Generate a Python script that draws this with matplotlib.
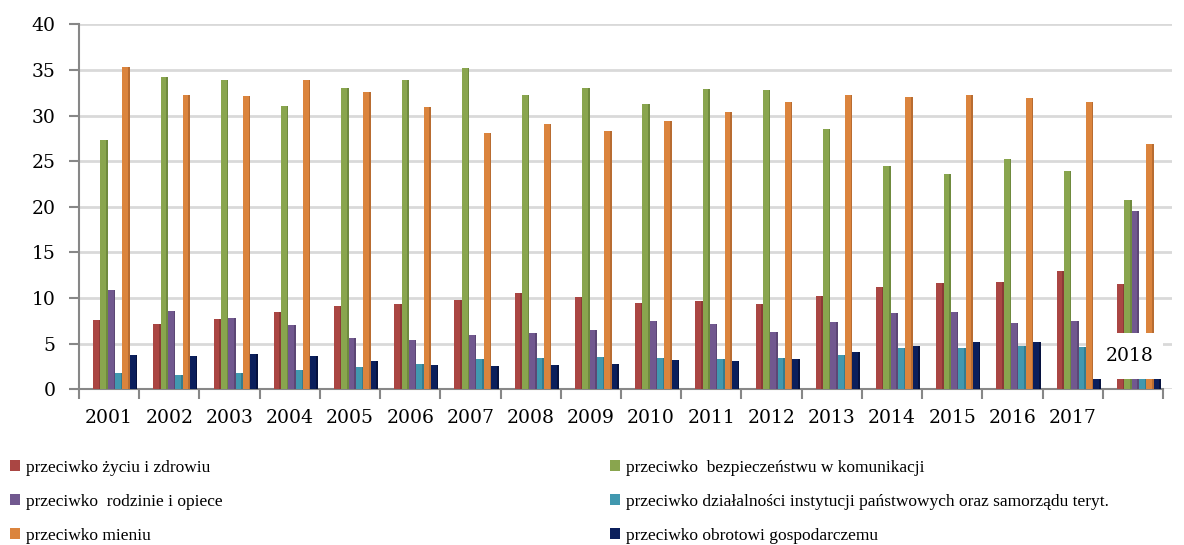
import matplotlib
matplotlib.use("Agg")
import matplotlib.pyplot as plt
from matplotlib.patches import Rectangle, Patch
import numpy as np

years = ["2001", "2002", "2003", "2004", "2005", "2006", "2007", "2008", "2009",
         "2010", "2011", "2012", "2013", "2014", "2015", "2016", "2017", "2018"]
tick_labels = years[:-1] + [""]

zycie = [7.6, 7.2, 7.7, 8.5, 9.1, 9.4, 9.75, 10.55, 10.1, 9.5, 9.7, 9.4, 10.2, 11.2, 11.6, 11.8, 13.0, 11.5]
komunikacja = [27.3, 34.2, 33.9, 31.1, 33.05, 33.9, 35.2, 32.2, 33.0, 31.3, 32.9, 32.8, 28.5, 24.5, 23.6, 25.2, 23.9, 20.75]
rodzina = [10.9, 8.6, 7.8, 7.1, 5.6, 5.4, 5.95, 6.2, 6.5, 7.45, 7.15, 6.25, 7.4, 8.4, 8.5, 7.3, 7.5, 19.5]
instytucje = [1.75, 1.6, 1.8, 2.1, 2.4, 2.8, 3.3, 3.45, 3.5, 3.4, 3.35, 3.4, 3.8, 4.5, 4.5, 4.7, 4.6, 4.5]
mienie = [35.35, 32.2, 32.1, 33.9, 32.6, 30.9, 28.1, 29.1, 28.3, 29.4, 30.35, 31.45, 32.25, 32.0, 32.2, 31.9, 31.45, 26.85]
obrot = [3.76, 3.7, 3.9, 3.65, 3.07, 2.7, 2.5, 2.7, 2.8, 3.25, 3.1, 3.3, 4.1, 4.8, 5.2, 5.2, 5.5, 5.0]

labels = ["przeciwko życiu i zdrowiu",
          "przeciwko  bezpieczeństwu w komunikacji",
          "przeciwko  rodzinie i opiece",
          "przeciwko działalności instytucji państwowych oraz samorządu teryt.",
          "przeciwko mieniu",
          "przeciwko obrotowi gospodarczemu"]
series = [zycie, komunikacja, rodzina, instytucje, mienie, obrot]
colors = ["#AA4643", "#89A54E", "#71588F", "#4198AF", "#DB843D", "#0B1F5C"]
side_colors = ["#8C3936", "#6F8A3E", "#5C4775", "#357C8F", "#B86C31", "#06123F"]

TICK_FONT = ["DejaVu Serif"]
LEG_FONT = ["Liberation Serif", "DejaVu Serif"]
plt.rcParams["font.family"] = LEG_FONT

W, H = 1184, 545
fig = plt.figure(figsize=(W / 100, H / 100), dpi=100)
x0, x1 = 79, 1172
y0, y1 = 389.3, 24.3
ax = fig.add_axes([x0 / W, (H - y0) / H, (x1 - x0) / W, (y0 - y1) / H])

n = len(years)
x = np.arange(n)
bw = 0.122
offset = 0.1
for i, (vals, c, sc) in enumerate(zip(series, colors, side_colors)):
    pos = x + offset + (i - 2.5) * bw
    ax.bar(pos, vals, width=bw, color=c, edgecolor="none", zorder=3)
    ax.bar(pos + bw * 0.39, vals, width=bw * 0.22, color=sc, edgecolor="none", zorder=3)

ax.set_xlim(-0.5, 17.5 + 9 / 60.2)
ax.set_ylim(0, 40)
ax.set_yticks(np.arange(0, 41, 5))
ax.set_xticks(x)
ax.set_xticklabels(tick_labels, fontsize=13.5, family=TICK_FONT)
ax.set_xticks(np.arange(-0.5, 18, 1), minor=True)
ax.tick_params(axis="x", which="major", length=0, pad=14, colors="#000000")
ax.tick_params(axis="x", which="minor", length=7, width=1.5, color="#878787", direction="out")
ax.tick_params(axis="y", length=7, width=1.5, color="#878787", labelsize=13.5, pad=10, direction="out")
for lab in ax.get_yticklabels():
    lab.set_color("#000000")
    lab.set_family(TICK_FONT)

ax.grid(axis="y", color="#D9D9D9", linewidth=2, zorder=0)
ax.set_axisbelow(True)
for s in ["top", "right"]:
    ax.spines[s].set_visible(False)
ax.spines["left"].set_color("#878787")
ax.spines["left"].set_linewidth(1.5)
ax.spines["bottom"].set_color("#878787")
ax.spines["bottom"].set_linewidth(1.5)
ax.spines["bottom"].set_bounds(-0.5, 17.5)

# label box for 2018
ax.add_patch(Rectangle((16.34, 1.13), 17.5 - 16.34, 6.17 - 1.13, facecolor="white",
                       edgecolor="none", zorder=5))
ax.text(16.95, 3.65, years[-1], ha="center", va="center", fontsize=13.5,
        family=TICK_FONT, zorder=6)

handles = [Patch(facecolor=c, edgecolor="none") for c in colors]
leg_kw = dict(frameon=False, fontsize=12.5, handlelength=0.6, handleheight=0.6,
              handletextpad=0.3, labelspacing=1.03, borderaxespad=0, borderpad=0)
fig.legend([handles[0], handles[2], handles[4]], [labels[0], labels[2], labels[4]],
           loc="upper left", bbox_to_anchor=(10 / W, (H - 460) / H), **leg_kw)
fig.legend([handles[1], handles[3], handles[5]], [labels[1], labels[3], labels[5]],
           loc="upper left", bbox_to_anchor=(610 / W, (H - 460) / H), **leg_kw)

fig.savefig("out.png", dpi=100)
